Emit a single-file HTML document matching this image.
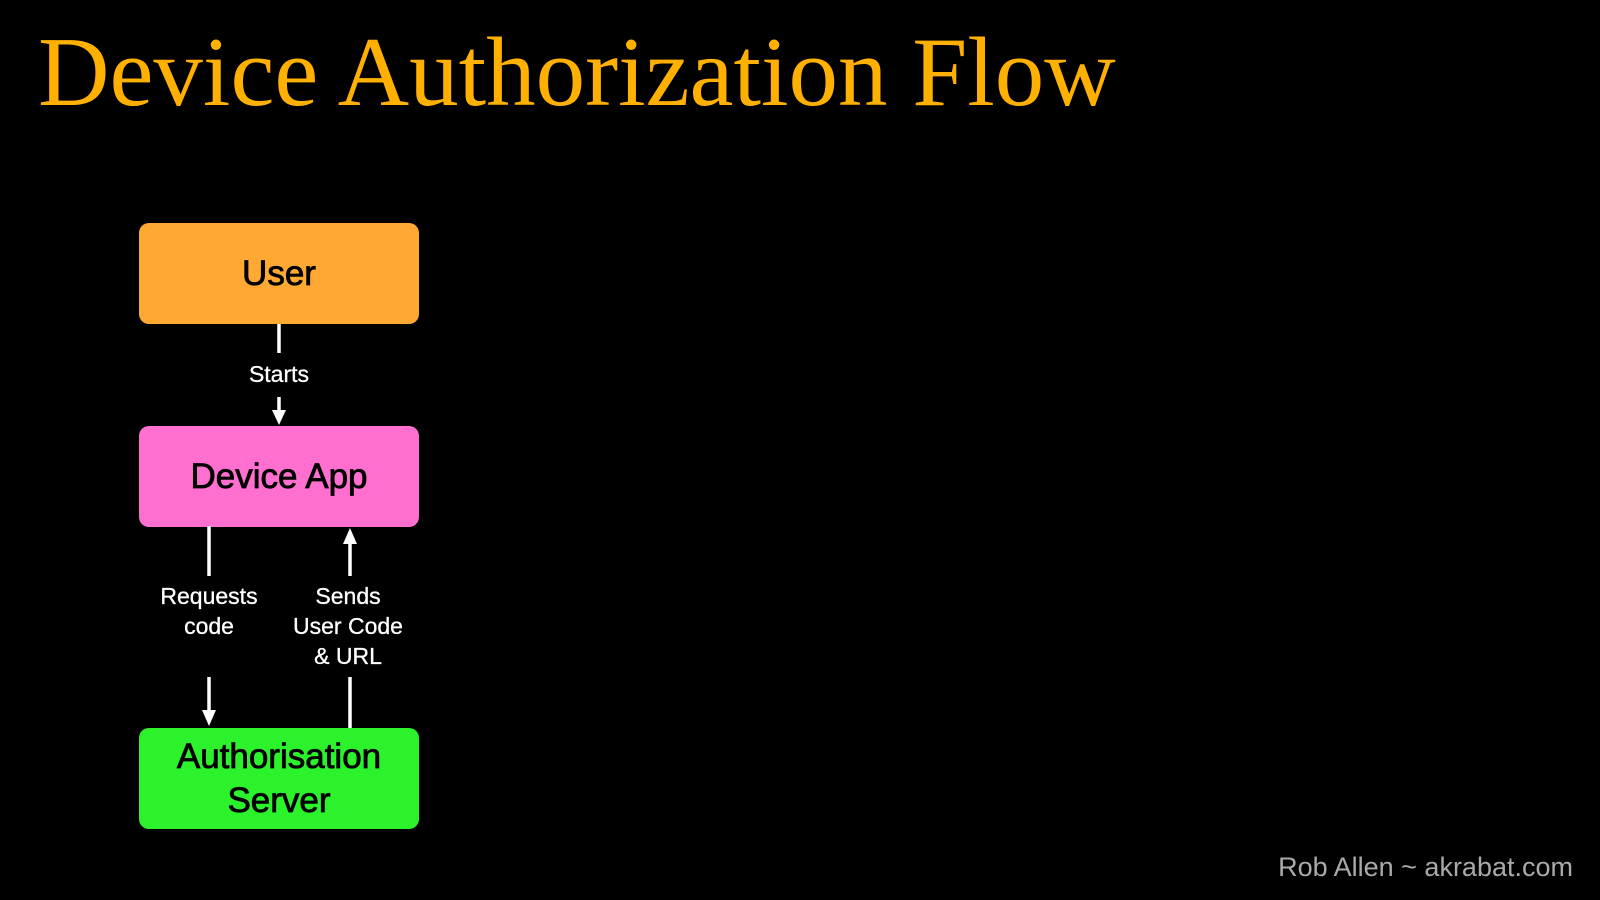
<!DOCTYPE html>
<html><head><style>
html,body{margin:0;padding:0;background:#000;}
body{width:1600px;height:900px;position:relative;overflow:hidden;font-family:"Liberation Sans",Arial,sans-serif;}
.title{position:absolute;left:38px;top:14px;font-family:"Liberation Serif",serif;font-size:99px;color:#FFB000;white-space:nowrap;line-height:1.2;}
.box{position:absolute;left:139px;width:280px;height:101px;border-radius:10px;display:flex;align-items:center;justify-content:center;text-align:center;color:#000;font-size:35px;line-height:44px;-webkit-text-stroke:0.8px #000;}
.lbl{position:absolute;color:#fff;font-size:23px;line-height:30px;text-align:center;width:160px;-webkit-text-stroke:0.3px #fff;}
.foot{position:absolute;right:27px;top:852px;color:#aaa;font-size:27px;}
</style></head><body>
<div class="title">Device Authorization Flow</div>
<div class="box" style="top:223px;background:#FFA833;">User</div>
<div class="box" style="top:426px;background:#FF6FCF;">Device App</div>
<div class="box" style="top:728px;background:#2BF22B;">Authorisation<br>Server</div>
<svg width="1600" height="900" style="position:absolute;left:0;top:0">
<g stroke="#fff" stroke-width="3.5" fill="#fff">
<line x1="279" y1="324" x2="279" y2="353"/>
<line x1="279" y1="397" x2="279" y2="414"/>
<polygon points="272,410 286,410 279,425" stroke="none"/>
<line x1="209" y1="526" x2="209" y2="576"/>
<line x1="209" y1="677" x2="209" y2="714"/>
<polygon points="202,710 216,710 209,726" stroke="none"/>
<line x1="350" y1="540" x2="350" y2="576"/>
<polygon points="343,544 357,544 350,528" stroke="none"/>
<line x1="350" y1="677" x2="350" y2="728"/>
</g></svg>
<div class="lbl" style="left:199px;top:359px;">Starts</div>
<div class="lbl" style="left:129px;top:581px;">Requests<br>code</div>
<div class="lbl" style="left:268px;top:581px;">Sends<br>User Code<br>&amp; URL</div>
<div class="foot">Rob Allen ~ akrabat.com</div>
</body></html>
